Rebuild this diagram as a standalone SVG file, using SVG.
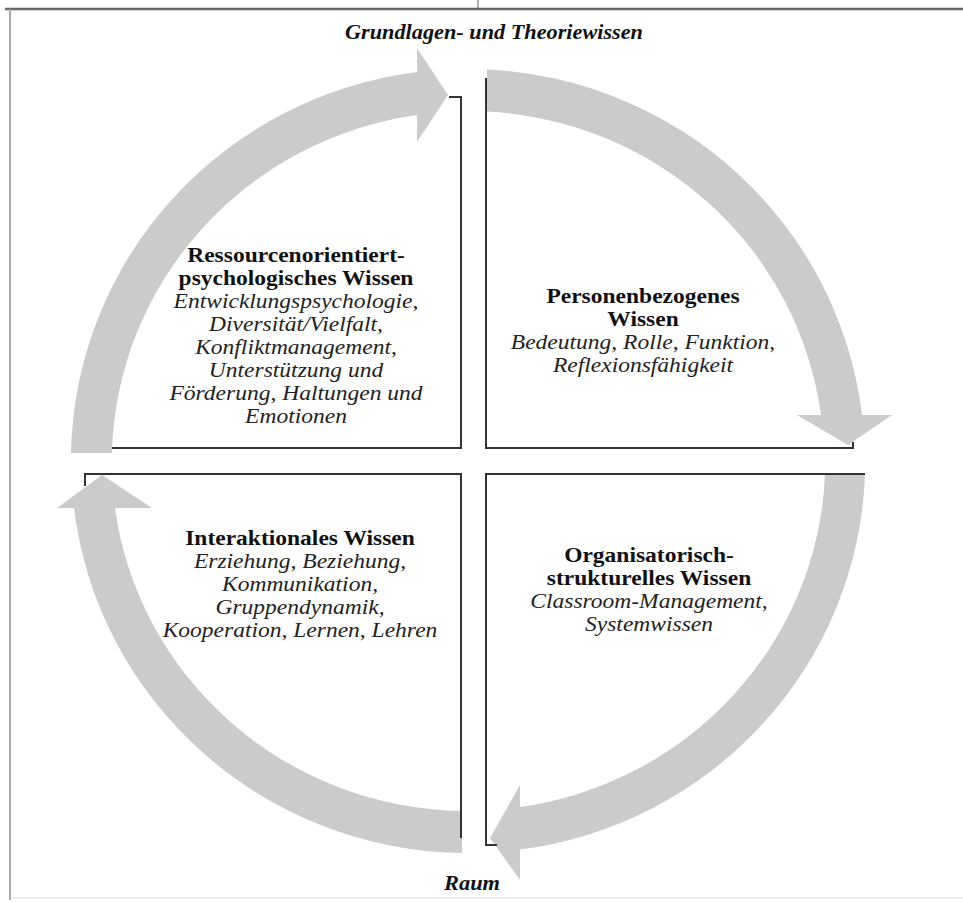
<svg xmlns="http://www.w3.org/2000/svg" width="963" height="902" viewBox="0 0 963 902">
<style>
text{font-family:"Liberation Serif","Times New Roman",serif;fill:#111;text-anchor:middle}
.b{font-weight:bold;font-size:21px}
.i{font-style:italic;font-size:21px;fill:#222}
.bi{font-weight:bold;font-style:italic;font-size:21px}
.arc{fill:#cbcbcb;stroke:none}
.box{fill:none;stroke:#333;stroke-width:2}
</style>
<rect width="963" height="902" fill="#fff"/>
<g id="frame">
<line x1="5" y1="9" x2="963" y2="9" stroke="#666" stroke-width="2.5"/>
<line x1="10" y1="9" x2="10" y2="900" stroke="#aaa" stroke-width="2"/>
<line x1="12" y1="898" x2="963" y2="898" stroke="#eee" stroke-width="2"/>
<line x1="478" y1="0" x2="478" y2="9" stroke="#666" stroke-width="1"/>
</g>
<g id="connectors">
<path class="arc" d="M112,453 L71,453 A397,392 0 0 1 417,72 L417,48 L448,95 L417,142 L417,115 A356,350 0 0 0 112,453 Z"/>
<path class="arc" d="M487,69.5 A397,392 0 0 1 862,415 L892,415 L848,445 L797,415 L821,415 A356,350 0 0 0 487,111.5 Z"/>
<path class="arc" d="M865,474 A397,392 0 0 1 520,849.6 L520,880 L490,838 L520,785 L520,807 A356,350 0 0 0 825,474 Z"/>
<path class="arc" d="M462,853 A397,392 0 0 1 74,508 L57,508 L102,475 L152,508 L115,508 A356,350 0 0 0 462,811 Z"/>
</g>
<g id="title">
<text class="bi" x="494" y="39" textLength="298" lengthAdjust="spacingAndGlyphs">Grundlagen- und Theoriewissen</text>
</g>
<g id="raum">
<text class="bi" x="472" y="890" textLength="56" lengthAdjust="spacingAndGlyphs">Raum</text>
</g>
<g id="q-ressourcen">
<path class="box" d="M449,97 H461 V448 H112"/>
<g transform="translate(296,0) scale(1.12,1)">
<text class="b" x="0" y="262">Ressourcenorientiert-</text>
<text class="b" x="0" y="285">psychologisches Wissen</text>
<text class="i" x="0" y="308">Entwicklungspsychologie,</text>
<text class="i" x="0" y="331">Diversität/Vielfalt,</text>
<text class="i" x="0" y="354">Konfliktmanagement,</text>
<text class="i" x="0" y="377">Unterstützung und</text>
<text class="i" x="0" y="400">Förderung, Haltungen und</text>
<text class="i" x="0" y="423">Emotionen</text>
</g>
</g>
<g id="q-personen">
<path class="box" d="M486,78 V448 H853 V442"/>
<g transform="translate(643,0) scale(1.12,1)">
<text class="b" x="0" y="303">Personenbezogenes</text>
<text class="b" x="0" y="326">Wissen</text>
<text class="i" x="0" y="349">Bedeutung, Rolle, Funktion,</text>
<text class="i" x="0" y="372">Reflexionsfähigkeit</text>
</g>
</g>
<g id="q-organisatorisch">
<path class="box" d="M865,474 H486 V845 H497"/>
<g transform="translate(649,0) scale(1.12,1)">
<text class="b" x="0" y="562">Organisatorisch-</text>
<text class="b" x="0" y="585">strukturelles Wissen</text>
<text class="i" x="0" y="608">Classroom-Management,</text>
<text class="i" x="0" y="631">Systemwissen</text>
</g>
</g>
<g id="q-interaktional">
<path class="box" d="M461,838 V474 H85 V486"/>
<g transform="translate(300,0) scale(1.12,1)">
<text class="b" x="0" y="545">Interaktionales Wissen</text>
<text class="i" x="0" y="568">Erziehung, Beziehung,</text>
<text class="i" x="0" y="591">Kommunikation,</text>
<text class="i" x="0" y="614">Gruppendynamik,</text>
<text class="i" x="0" y="637">Kooperation, Lernen, Lehren</text>
</g>
</g>
</svg>
